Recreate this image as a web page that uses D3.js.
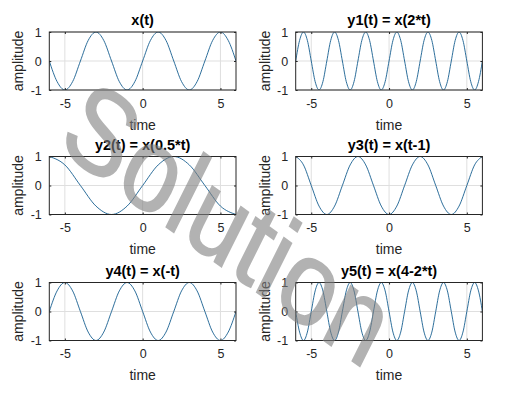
<!DOCTYPE html>
<html>
<head>
<meta charset="utf-8">
<script src="https://cdn.jsdelivr.net/npm/d3@7"></script>
<style>
  body { margin: 0; background: #fff; }
  svg { font-family: "Liberation Sans", Arial, Helvetica, sans-serif; }
</style>
</head>
<body>
<div id="content"></div>
<script>
var Width = 525;
var Height = 407;

// sample times (extrema, zero crossings and the points between them)
var tWhole = [-6, -5, -4, -3, -2, -1, 0, 1, 2, 3, 4, 5, 6];
var tHalf = [-6, -5.5, -5, -4.5, -4, -3.5, -3, -2.5, -2, -1.5, -1, -0.5, 0,
  0.5, 1, 1.5, 2, 2.5, 3, 3.5, 4, 4.5, 5, 5.5, 6];
var tQuarter = [-6, -5.75, -5.5, -5.25, -5, -4.75, -4.5, -4.25, -4, -3.75, -3.5,
  -3.25, -3, -2.75, -2.5, -2.25, -2, -1.75, -1.5, -1.25, -1, -0.75, -0.5, -0.25,
  0, 0.25, 0.5, 0.75, 1, 1.25, 1.5, 1.75, 2, 2.25, 2.5, 2.75, 3, 3.25, 3.5, 3.75,
  4, 4.25, 4.5, 4.75, 5, 5.25, 5.5, 5.75, 6];

// amplitudes
var xVals = [0, -0.71, -1, -0.71, 0, 0.71, 1, 0.71, 0, -0.71, -1, -0.71, 0,
  0.71, 1, 0.71, 0, -0.71, -1, -0.71, 0, 0.71, 1, 0.71, 0];
var y1Vals = [0, 0.71, 1, 0.71, 0, -0.71, -1, -0.71, 0, 0.71, 1, 0.71, 0,
  -0.71, -1, -0.71, 0, 0.71, 1, 0.71, 0, -0.71, -1, -0.71, 0, 0.71, 1, 0.71,
  0, -0.71, -1, -0.71, 0, 0.71, 1, 0.71, 0, -0.71, -1, -0.71, 0, 0.71, 1, 0.71,
  0, -0.71, -1, -0.71, 0];
var y2Vals = [1, 0.71, 0, -0.71, -1, -0.71, 0, 0.71, 1, 0.71, 0, -0.71, -1];
var y3Vals = [1, 0.71, 0, -0.71, -1, -0.71, 0, 0.71, 1, 0.71, 0, -0.71, -1,
  -0.71, 0, 0.71, 1, 0.71, 0, -0.71, -1, -0.71, 0, 0.71, 1];
var y4Vals = [0, 0.71, 1, 0.71, 0, -0.71, -1, -0.71, 0, 0.71, 1, 0.71, 0,
  -0.71, -1, -0.71, 0, 0.71, 1, 0.71, 0, -0.71, -1, -0.71, 0];
var y5Vals = [0, -0.71, -1, -0.71, 0, 0.71, 1, 0.71, 0, -0.71, -1, -0.71, 0,
  0.71, 1, 0.71, 0, -0.71, -1, -0.71, 0, 0.71, 1, 0.71, 0, -0.71, -1, -0.71,
  0, 0.71, 1, 0.71, 0, -0.71, -1, -0.71, 0, 0.71, 1, 0.71, 0, -0.71, -1, -0.71,
  0, 0.71, 1, 0.71, 0];

var titles = ["x(t)", "y1(t) = x(2*t)", "y2(t) = x(0.5*t)", "y3(t) = x(t-1)",
  "y4(t) = x(-t)", "y5(t) = x(4-2*t)"];
var xTicks = [-5, 0, 5];
var yTicks = [-1, 0, 1];
var xLabel = "time";
var yLabel = "amplitude";
var watermark = "Solution";

var panels = [
  { title: titles[0], t: tHalf, v: xVals },
  { title: titles[1], t: tQuarter, v: y1Vals },
  { title: titles[2], t: tWhole, v: y2Vals },
  { title: titles[3], t: tHalf, v: y3Vals },
  { title: titles[4], t: tHalf, v: y4Vals },
  { title: titles[5], t: tQuarter, v: y5Vals },
];

// subplot boxes
var colLeft = [49.3, 295.7];
var rowTop = [32, 156.5, 282.5];
var plotW = 186.7;
var plotH = 58;
var axisColor = "#262626";
var lineColor = "#155d8e";

var svg = d3
  .select("#content")
  .append("svg")
  .attr("width", Width)
  .attr("height", Height);

var xScale = d3.scaleLinear().domain([-6, 6]).range([0, plotW]);
var yScale = d3.scaleLinear().domain([-1, 1]).range([plotH, 0]);
var plain = function (d) { return String(d); };

var line = d3
  .line()
  .x(function (d) { return xScale(d[0]); })
  .y(function (d) { return yScale(d[1]); })
  .curve(d3.curveMonotoneX);

panels.forEach(function (p, i) {
  var left = colLeft[i % 2];
  var top = rowTop[Math.floor(i / 2)];
  var g = svg.append("g").attr("transform", "translate(" + left + "," + top + ")");

  // grid
  g.selectAll(".vgrid")
    .data(xTicks)
    .enter()
    .append("line")
    .attr("x1", function (d) { return xScale(d); })
    .attr("x2", function (d) { return xScale(d); })
    .attr("y1", 0)
    .attr("y2", plotH)
    .attr("stroke", "#dfdfdf")
    .attr("stroke-width", 1);
  g.selectAll(".hgrid")
    .data(yTicks)
    .enter()
    .append("line")
    .attr("x1", 0)
    .attr("x2", plotW)
    .attr("y1", function (d) { return yScale(d); })
    .attr("y2", function (d) { return yScale(d); })
    .attr("stroke", "#dfdfdf")
    .attr("stroke-width", 1);

  // curve
  var clipId = "clip" + i;
  g.append("clipPath")
    .attr("id", clipId)
    .append("rect")
    .attr("width", plotW)
    .attr("height", plotH);
  g.append("path")
    .datum(d3.zip(p.t, p.v))
    .attr("clip-path", "url(#" + clipId + ")")
    .attr("fill", "none")
    .attr("stroke", lineColor)
    .attr("stroke-width", 0.9)
    .attr("d", line);

  // axes, ticks inside the box
  g.append("g")
    .attr("transform", "translate(0," + plotH + ")")
    .call(d3.axisBottom(xScale).tickValues(xTicks).tickFormat(plain)
      .tickSize(-2).tickSizeOuter(0).tickPadding(9));
  g.append("g")
    .call(d3.axisLeft(yScale).tickValues(yTicks).tickFormat(plain)
      .tickSize(-2).tickSizeOuter(0).tickPadding(7.5));
  g.append("g")
    .call(d3.axisTop(xScale).tickValues(xTicks).tickSize(-2).tickSizeOuter(0).tickFormat(""));
  g.append("g")
    .attr("transform", "translate(" + plotW + ",0)")
    .call(d3.axisRight(yScale).tickValues(yTicks).tickSize(-2).tickSizeOuter(0).tickFormat(""));
  g.selectAll(".domain").remove();
  g.selectAll(".tick line").attr("stroke", axisColor);
  g.selectAll(".tick text")
    .attr("fill", axisColor)
    .attr("font-size", "12.5px")
    .attr("font-family", null);

  g.append("rect")
    .attr("width", plotW)
    .attr("height", plotH)
    .attr("fill", "none")
    .attr("stroke", axisColor)
    .attr("stroke-width", 1);

  // labels and title
  g.append("text")
    .attr("x", plotW / 2)
    .attr("y", plotH + 39.5)
    .attr("text-anchor", "middle")
    .attr("font-size", "14px")
    .attr("fill", axisColor)
    .text(xLabel);
  g.append("text")
    .attr("transform", "translate(-26," + plotH / 2 + ") rotate(-90)")
    .attr("text-anchor", "middle")
    .attr("font-size", "14px")
    .attr("fill", axisColor)
    .text(yLabel);
  g.append("text")
    .attr("x", plotW / 2)
    .attr("y", -7)
    .attr("text-anchor", "middle")
    .attr("font-size", "14.5px")
    .attr("font-weight", "bold")
    .attr("fill", "#000")
    .text(p.title);
});

// watermark
svg.append("text")
  .attr("transform", "translate(224,232) scale(1,1.2) rotate(31)")
  .attr("text-anchor", "middle")
  .attr("dy", "0.26em")
  .attr("font-size", "100px")
  .attr("fill", "#808080")
  .attr("stroke", "#808080")
  .attr("stroke-width", 1.5)
  .attr("opacity", 0.6)
  .text(watermark);
</script>
</body>
</html>
